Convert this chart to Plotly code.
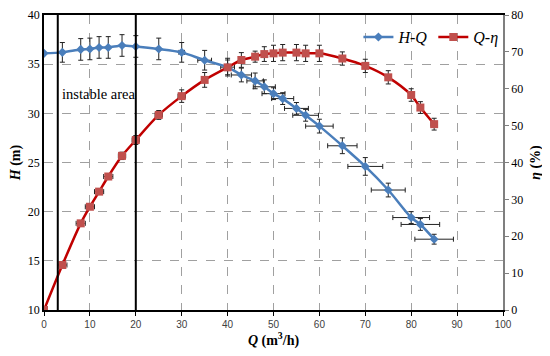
import plotly.graph_objects as go

# ---- data ----
Q_H = [0, 4, 8, 10, 12, 14, 17, 20, 25, 30, 35, 40, 43, 46, 48, 50, 52, 55, 57, 60, 65, 70, 75, 80, 82, 85]
H = [36.1, 36.2, 36.5, 36.55, 36.7, 36.7, 36.9, 36.8, 36.55, 36.2, 35.4, 34.7, 33.9, 33.3, 32.7, 32.0,
     31.5, 30.5, 29.8, 28.7, 26.7, 24.6, 22.2, 19.4, 18.7, 17.2]
H_err_y = [0, 1.0, 1.1, 1.1, 1.1, 1.1, 1.1, 1.1, 1.1, 1.0, 1.0, 0.9, 0.7, 0.8, 0.7, 0.6,
           0.6, 0.6, 0.6, 0.7, 0.8, 0.9, 0.7, 0.6, 0.6, 0.5]
H_err_x = [0, 0, 0, 0, 0, 0, 0, 0, 0, 0.6, 1.5, 1.5, 2.2, 1.8, 2.4, 2.5,
           2.4, 2.6, 2.8, 3.0, 3.2, 3.8, 3.7, 4.0, 4.2, 4.2]

Q_eta = [0, 4, 8, 10, 12, 14, 17, 20, 25, 30, 35, 40, 43, 46, 48, 50, 52, 55, 57, 60, 65, 70, 75, 80, 82, 85]
eta = [0, 12.2, 23.5, 28.0, 32.1, 36.2, 41.8, 46.1, 52.9, 58.0, 62.4, 65.8, 67.8, 68.7, 69.4, 69.6,
       69.8, 69.8, 69.6, 69.6, 68.2, 66.2, 63.1, 58.3, 54.9, 50.4]
eta_err_y = [0, 0.6, 0.6, 0.6, 0.6, 0.6, 1.0, 1.2, 1.2, 1.7, 2.0, 2.0, 2.0, 1.5, 2.0, 2.2,
             2.2, 2.2, 2.2, 2.2, 1.8, 1.8, 1.8, 1.7, 1.6, 1.6]
eta_err_x = [0.5, 1.0, 1.0, 1.0, 1.0, 1.0, 0.8, 0.8, 0.8, 0.8, 0.5, 0.5, 0.5, 0.5, 0.5, 0.5,
             0.5, 0.5, 0.5, 0.5, 0.5, 0.6, 0.6, 0.6, 0.6, 0.7]

instable_bounds = [3, 20]
instable_label = "instable area"
x_ticks = [0, 10, 20, 30, 40, 50, 60, 70, 80, 90, 100]
y_ticks = [10, 15, 20, 25, 30, 35, 40]
y2_ticks = [0, 10, 20, 30, 40, 50, 60, 70, 80]

SERIF = "Liberation Serif, Times New Roman, serif"
err_style = dict(color="#222222", thickness=1, width=2.5)

fig = go.Figure()

fig.add_trace(go.Scatter(
    x=Q_H, y=H, name="<i>H-Q</i>", mode="lines+markers",
    line=dict(color="#4A7EBB", width=2.5, shape="spline", smoothing=0.8),
    marker=dict(symbol="diamond", size=7, color="#4A7EBB"),
    error_y=dict(type="data", array=H_err_y, visible=True, **err_style),
    error_x=dict(type="data", array=H_err_x, visible=True, **err_style),
    yaxis="y",
))

fig.add_trace(go.Scatter(
    x=Q_eta, y=eta, name="<i>Q-η</i>", mode="lines+markers",
    line=dict(color="#C00000", width=2.5, shape="spline", smoothing=0.8),
    marker=dict(symbol="square", size=8, color="#C0504D"),
    error_y=dict(type="data", array=eta_err_y, visible=True, **err_style),
    error_x=dict(type="data", array=eta_err_x, visible=True, **err_style),
    yaxis="y2",
))

for xb in instable_bounds:
    fig.add_shape(type="line", xref="x", yref="paper", x0=xb, x1=xb, y0=0, y1=1,
                  line=dict(color="black", width=2))

fig.add_annotation(x=instable_bounds[0] + 0.5, y=32.0, xref="x", yref="y", text=instable_label,
                   showarrow=False, xanchor="left", yanchor="middle",
                   font=dict(family=SERIF, size=14.5, color="black"))

grid = dict(showgrid=True, gridcolor="#A0A0A0", griddash="dash", gridwidth=1)

# page body has an 8px margin, so the figure is sized to fit the 550x356 window
fig.update_layout(
    width=542, height=348,
    margin=dict(l=36, r=47, t=7, b=46, autoexpand=False),
    paper_bgcolor="white", plot_bgcolor="white",
    font=dict(family=SERIF, color="black"),
    showlegend=True,
    legend=dict(orientation="h", x=0.685, y=0.925, xanchor="left", yanchor="middle",
                bgcolor="rgba(0,0,0,0)", font=dict(family=SERIF, size=16, color="black"),
                itemwidth=30, tracegroupgap=0),
    xaxis=dict(range=[0, 100], tickvals=x_ticks, ticks="outside", ticklen=4,
               tickcolor="black", showline=True, linecolor="black", linewidth=1.5,
               mirror=True, zeroline=False, automargin=False,
               tickfont=dict(family="Liberation Sans, Arial, sans-serif", size=10, color="#404040"),
               title=dict(text="<b><i>Q</i> (m<sup>3</sup>/h)</b>", font=dict(family=SERIF, size=14),
                          standoff=5),
               **grid),
    yaxis=dict(range=[10, 40], tickvals=y_ticks, ticks="", showline=True, linecolor="black",
               linewidth=1.5, zeroline=False, automargin=False,
               tickfont=dict(family=SERIF, size=12, color="black"),
               title=dict(text="<b><i>H</i> (m)</b>", font=dict(family=SERIF, size=14), standoff=6),
               **grid),
    yaxis2=dict(range=[0, 80], tickvals=y2_ticks, overlaying="y", side="right", ticks="outside",
                ticklen=4, tickcolor="#7F7F7F", showline=True, linecolor="#7F7F7F", linewidth=1.5,
                showgrid=False, zeroline=False, automargin=False,
                tickfont=dict(family=SERIF, size=12, color="black"),
                title=dict(text="<b><i>η</i> (%)</b>", font=dict(family=SERIF, size=14), standoff=8)),
)

fig.write_html("out.html")
